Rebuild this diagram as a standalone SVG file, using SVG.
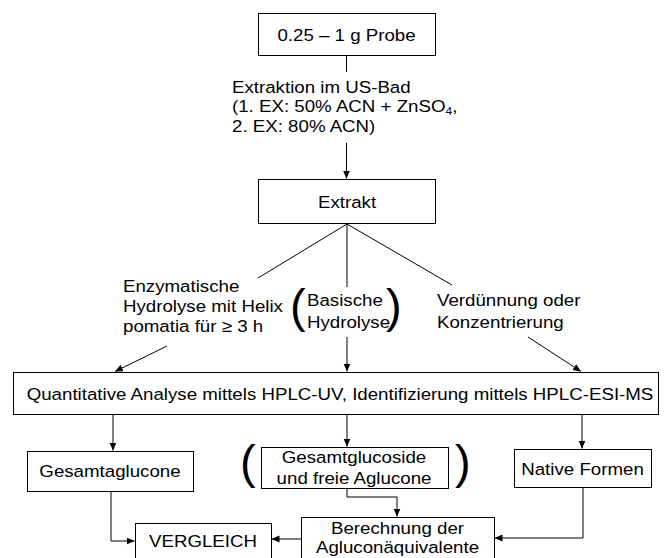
<svg xmlns="http://www.w3.org/2000/svg" width="670" height="558" viewBox="0 0 670 558">
<style>
  .box { fill: #fff; stroke: #000; stroke-width: 1; }
  .t { font-family: "Liberation Sans", Arial, sans-serif; font-size: 17px; fill: #000; }
  .c { text-anchor: middle; }
  .par { font-family: "Liberation Sans", Arial, sans-serif; font-size: 47px; fill: #000; }
  .ln { fill: none; stroke: #000; stroke-width: 1; }
  .arr { marker-end: url(#ah); }
</style>
<defs>
  <marker id="ah" markerWidth="9" markerHeight="8" refX="8" refY="3.5" orient="auto" markerUnits="userSpaceOnUse">
    <path d="M0,0 L8,3.5 L0,7 z" fill="#000"/>
  </marker>
</defs>
<rect width="670" height="558" fill="#fff"/>
<g id="connectors">
  <line class="ln" x1="346.5" y1="55" x2="346.5" y2="72"/>
  <line class="ln arr" x1="346.5" y1="143" x2="346.5" y2="178.5"/>
  <line class="ln" x1="347" y1="224" x2="258" y2="278"/>
  <line class="ln" x1="347" y1="224" x2="347" y2="287"/>
  <line class="ln" x1="347" y1="224" x2="452" y2="285"/>
  <line class="ln arr" x1="167" y1="346" x2="115" y2="371.5"/>
  <line class="ln arr" x1="347" y1="337" x2="347" y2="371.5"/>
  <line class="ln arr" x1="528" y1="337" x2="581" y2="371.5"/>
  <line class="ln arr" x1="113" y1="415" x2="113" y2="450.5"/>
  <line class="ln arr" x1="347" y1="415" x2="347" y2="446.5"/>
  <line class="ln arr" x1="582" y1="415" x2="582" y2="448.5"/>
  <polyline class="ln arr" points="111,491 111,541 134.5,541"/>
  <polyline class="ln arr" points="347,489 347,497 397,497 397,516.5"/>
  <line class="ln arr" x1="301" y1="539" x2="271.5" y2="539"/>
  <polyline class="ln arr" points="583,487 583,538 494.5,538"/>
</g>
<g id="probe">
  <rect class="box" x="258.5" y="13.5" width="177" height="42"/>
  <text class="t c" transform="translate(346.5,40.5) scale(1.1,1)">0.25 – 1 g Probe</text>
</g>
<g id="extraktion-label">
  <text class="t" transform="translate(232,93) scale(1.1,1)"><tspan x="0" y="0">Extraktion im US-Bad</tspan><tspan x="0" y="19.5">(1. EX: 50% ACN + ZnSO<tspan font-size="11" dy="3">4</tspan><tspan dy="-3">,</tspan></tspan><tspan x="0" y="39">2. EX: 80% ACN)</tspan></text>
</g>
<g id="extrakt">
  <rect class="box" x="258.5" y="179.5" width="177" height="44"/>
  <text class="t c" transform="translate(347,207.5) scale(1.1,1)">Extrakt</text>
</g>
<g id="enzymatisch">
  <text class="t" transform="translate(123,292) scale(1.1,1)"><tspan x="0" y="0">Enzymatische</tspan><tspan x="0" y="20">Hydrolyse mit Helix</tspan><tspan x="0" y="40">pomatia für ≥ 3 h</tspan></text>
</g>
<g id="basisch">
  <text class="par" x="290" y="322">(</text>
  <text class="t" transform="translate(307,306) scale(1.1,1)"><tspan x="0" y="0">Basische</tspan><tspan x="0" y="22">Hydrolyse</tspan></text>
  <text class="par" x="386" y="322">)</text>
</g>
<g id="verduennung">
  <text class="t" transform="translate(437,306) scale(1.1,1)"><tspan x="0" y="0">Verdünnung oder</tspan><tspan x="0" y="22">Konzentrierung</tspan></text>
</g>
<g id="analyse">
  <rect class="box" x="13.5" y="372.5" width="645" height="42"/>
  <text class="t c" transform="translate(340,399.5) scale(1.1,1)">Quantitative Analyse mittels HPLC-UV, Identifizierung mittels HPLC-ESI-MS</text>
</g>
<g id="gesamtaglucone">
  <rect class="box" x="27.5" y="451.5" width="166" height="40"/>
  <text class="t c" transform="translate(110,477) scale(1.1,1)">Gesamtaglucone</text>
</g>
<g id="gesamtglucoside">
  <text class="par" x="240" y="478">(</text>
  <rect class="box" x="261.5" y="447.5" width="187" height="41"/>
  <text class="t c" transform="translate(354,463) scale(1.1,1)"><tspan x="0" y="0">Gesamtglucoside</tspan><tspan x="0" y="21">und freie Aglucone</tspan></text>
  <text class="par" x="455" y="478">)</text>
</g>
<g id="native">
  <rect class="box" x="514.5" y="449.5" width="137" height="38"/>
  <text class="t c" transform="translate(582.5,474.5) scale(1.1,1)">Native Formen</text>
</g>
<g id="berechnung">
  <rect class="box" x="301.5" y="517.5" width="193" height="44"/>
  <text class="t c" transform="translate(397.5,534) scale(1.1,1)"><tspan x="0" y="0">Berechnung der</tspan><tspan x="0" y="19.5">Agluconäquivalente</tspan></text>
</g>
<g id="vergleich">
  <rect class="box" x="135.5" y="523.5" width="136" height="40"/>
  <text class="t c" transform="translate(203,546.5) scale(1.1,1)">VERGLEICH</text>
</g>
</svg>
